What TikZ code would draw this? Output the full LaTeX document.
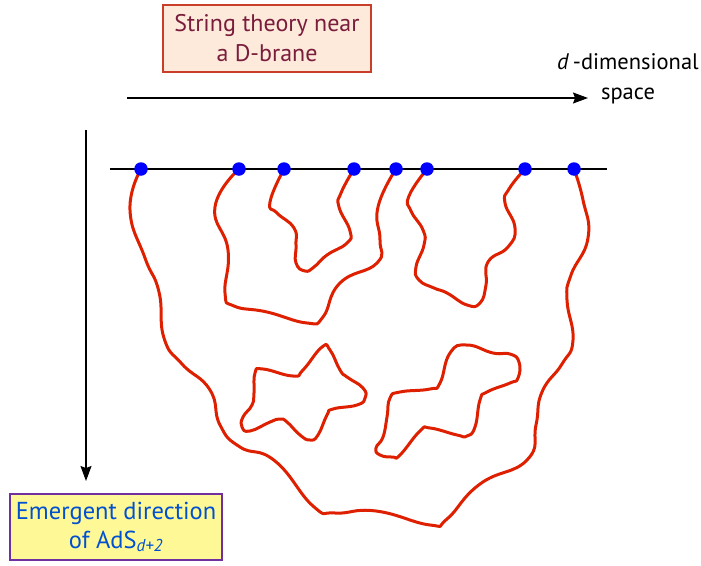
\documentclass[tikz,border=0pt]{standalone}
\usepackage{fontspec}
\setmainfont{PT Sans}
\usetikzlibrary{arrows.meta,positioning}
\definecolor{peach}{RGB}{253,234,218}
\definecolor{brick}{RGB}{200,62,40}
\definecolor{maroon}{RGB}{122,28,60}
\definecolor{lemon}{RGB}{255,248,150}
\definecolor{grape}{RGB}{112,48,160}
\definecolor{azure}{RGB}{0,80,210}
\definecolor{strred}{RGB}{222,32,0}
\definecolor{dotblue}{RGB}{0,0,255}
\tikzset{
  arr/.style={-{Stealth[length=15pt,width=11pt,inset=2pt]},line width=1.1pt},
  titlebox/.style={draw=brick,fill=peach,line width=1.2pt,text=maroon,align=center,minimum width=208pt,minimum height=67pt,inner sep=0pt,font=\fontsize{24}{30}\selectfont},
  axisbox/.style={draw=grape,fill=lemon,line width=1.4pt,text=azure,align=center,minimum width=212pt,minimum height=66pt,inner sep=0pt,font=\fontsize{24.5}{29}\selectfont},
  lab/.style={align=center,inner sep=0pt,font=\fontsize{22.5}{30}\selectfont},
  brane/.style={line width=1.8pt},
  strand/.style={draw=strred,line width=3pt,line join=round,line cap=round},
  endpt/.style={circle,fill=dotblue,inner sep=0pt,minimum size=13.5pt}
}

\begin{document}
\begin{tikzpicture}[x=1pt,y=-1pt]
  \useasboundingbox (0,0) rectangle (701,565);

  \node[titlebox] (title) at (267,38.5) {String theory near\\a D-brane};
  \node[lab] (space) at (628,79) {\textit{d}\,-dimensional\\space};
  \node[axisbox] (emerge) at (116,527) {Emergent direction\\of AdS\textsubscript{\itshape d+2}};

  \coordinate (hx0) at (127,98);
  \coordinate (hx1) at (588,98);
  \coordinate (vx0) at (86,130);
  \coordinate (vx1) at (86,481);
  \draw[arr] (hx0) -- (hx1);
  \draw[arr] (vx0) -- (vx1);

  % the brane and the string end points
  \coordinate (l0) at (110,169);
  \coordinate (l1) at (607,169);
  \draw[brane] (l0) -- (l1);
  \foreach \n/\x in {1/141,2/239,3/284,4/354,5/396,6/427,7/525,8/574}
    \coordinate (b\n) at (\x,169);

  % open strings
  \draw[strand] plot[smooth,tension=0.85] coordinates {(b1) (130,210) (145,258) (159,292) (164,338) (182,364) (210,390) (220,425) (240,447) (275,461) (313,506) (335,513) (376,511) (430,525) (447,519) (480,484) (527,460) (536,425) (542,392) (562,364) (573,340) (567,300) (571,275) (588,238) (583,200) (b8)};
  \draw[strand] plot[smooth,tension=0.85] coordinates {(b2) (215,207) (228,250) (225,293) (234,306) (267,312) (307,323) (323,317) (340,283) (377,263) (380,240) (378,207) (b5)};
  \draw[strand] plot[smooth,tension=0.85] coordinates {(b3) (270,202) (277,213) (294,228) (296,245) (296,263) (305,271) (314,267) (327,255) (347,243) (350,231) (339,207) (341,193) (b4)};
  \draw[strand] plot[smooth,tension=0.85] coordinates {(b6) (409,196) (411,211) (423,230) (424,245) (416,267) (419,280) (434,288) (447,293) (467,305) (480,303) (486,285) (488,262) (508,247) (515,228) (505,203) (509,189) (b7)};

  % closed strings
  \draw[strand] plot[smooth cycle,tension=0.85] coordinates {(263,369) (293,376) (303,370) (322,347) (330,350) (340,370) (347,377) (363,388) (365,398) (357,405) (333,409) (327,415) (318,435) (310,440) (300,435) (287,422) (280,419) (270,422) (250,431) (242,427) (243,417) (252,405) (254,393) (255,373)};
  \draw[strand] plot[smooth cycle,tension=0.85] coordinates {(467,345) (493,353) (510,354) (519,362) (518,378) (510,383) (487,392) (480,400) (475,427) (467,436) (457,435) (430,428) (420,431) (400,455) (393,457) (380,455) (376,448) (383,437) (387,417) (390,398) (400,392) (430,389) (440,383) (450,353)};

  \foreach \n in {1,...,8}
    \node[endpt] (e\n) at (b\n) {};
\end{tikzpicture}
\end{document}
